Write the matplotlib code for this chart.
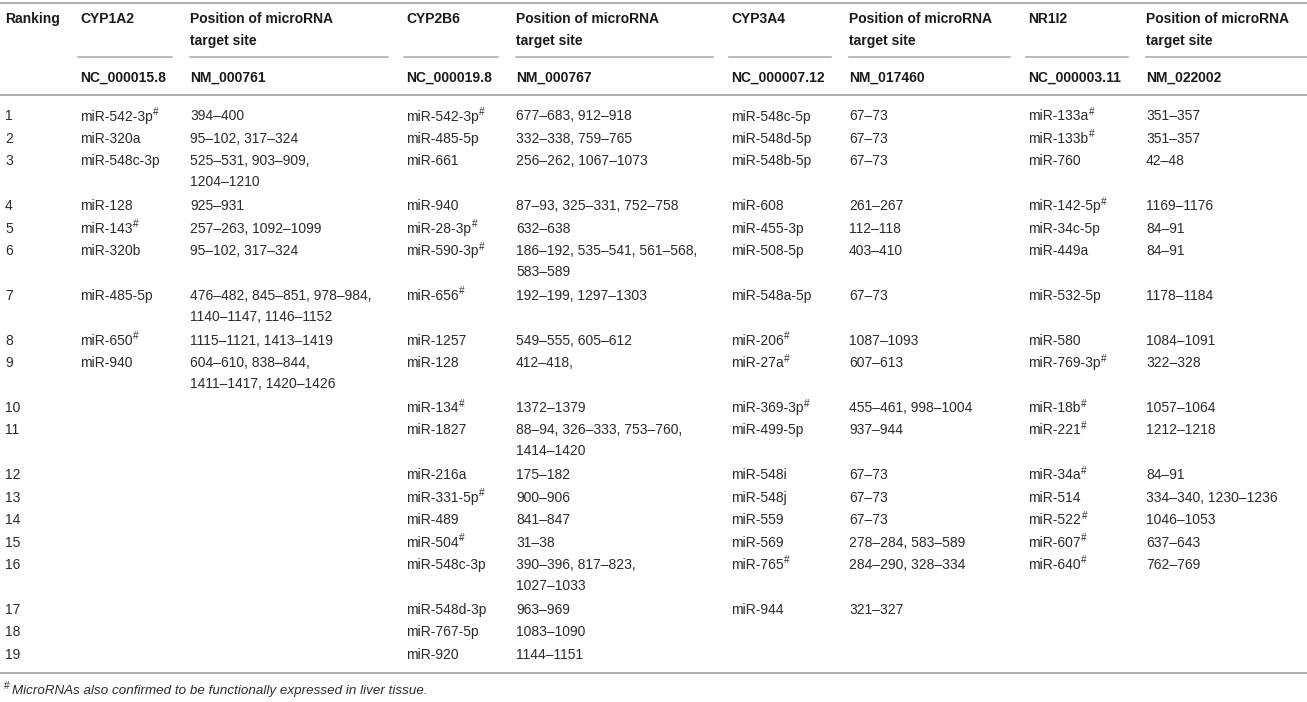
import matplotlib
matplotlib.use("Agg")
import matplotlib.pyplot as plt

plt.rcParams['font.family'] = ['Liberation Sans', 'DejaVu Sans']

# ---------------- data ----------------
genes = ["CYP1A2", "CYP2B6", "CYP3A4", "NR1I2"]
nc_ids = ["NC_000015.8", "NC_000019.8", "NC_000007.12", "NC_000003.11"]
nm_ids = ["NM_000761", "NM_000767", "NM_017460", "NM_022002"]
pos_header = "Position of microRNA\ntarget site"
rankings = [str(i) for i in range(1, 20)]

cyp1a2_mirna = ["miR-542-3p#", "miR-320a", "miR-548c-3p", "miR-128", "miR-143#",
                "miR-320b", "miR-485-5p", "miR-650#", "miR-940"]
cyp1a2_pos = ["394–400", "95–102, 317–324", "525–531, 903–909,\n1204–1210", "925–931",
              "257–263, 1092–1099", "95–102, 317–324",
              "476–482, 845–851, 978–984,\n1140–1147, 1146–1152",
              "1115–1121, 1413–1419", "604–610, 838–844,\n1411–1417, 1420–1426"]

cyp2b6_mirna = ["miR-542-3p#", "miR-485-5p", "miR-661", "miR-940", "miR-28-3p#",
                "miR-590-3p#", "miR-656#", "miR-1257", "miR-128", "miR-134#", "miR-1827",
                "miR-216a", "miR-331-5p#", "miR-489", "miR-504#", "miR-548c-3p",
                "miR-548d-3p", "miR-767-5p", "miR-920"]
cyp2b6_pos = ["677–683, 912–918", "332–338, 759–765", "256–262, 1067–1073",
              "87–93, 325–331, 752–758", "632–638", "186–192, 535–541, 561–568,\n583–589",
              "192–199, 1297–1303", "549–555, 605–612", "412–418,", "1372–1379",
              "88–94, 326–333, 753–760,\n1414–1420", "175–182", "900–906", "841–847",
              "31–38", "390–396, 817–823,\n1027–1033", "963–969", "1083–1090", "1144–1151"]

cyp3a4_mirna = ["miR-548c-5p", "miR-548d-5p", "miR-548b-5p", "miR-608", "miR-455-3p",
                "miR-508-5p", "miR-548a-5p", "miR-206#", "miR-27a#", "miR-369-3p#",
                "miR-499-5p", "miR-548i", "miR-548j", "miR-559", "miR-569", "miR-765#",
                "miR-944"]
cyp3a4_pos = ["67–73", "67–73", "67–73", "261–267", "112–118", "403–410", "67–73",
              "1087–1093", "607–613", "455–461, 998–1004", "937–944", "67–73", "67–73",
              "67–73", "278–284, 583–589", "284–290, 328–334", "321–327"]

nr1i2_mirna = ["miR-133a#", "miR-133b#", "miR-760", "miR-142-5p#", "miR-34c-5p",
               "miR-449a", "miR-532-5p", "miR-580", "miR-769-3p#", "miR-18b#", "miR-221#",
               "miR-34a#", "miR-514", "miR-522#", "miR-607#", "miR-640#"]
nr1i2_pos = ["351–357", "351–357", "42–48", "1169–1176", "84–91", "84–91", "1178–1184",
             "1084–1091", "322–328", "1057–1064", "1212–1218", "84–91",
             "334–340, 1230–1236", "1046–1053", "637–643", "762–769"]

footnote = "MicroRNAs also confirmed to be functionally expressed in liver tissue."

# ---------------- layout ----------------
W, H = 1307, 702
fig = plt.figure(figsize=(W / 100, H / 100), dpi=100)
ax = fig.add_axes([0, 0, 1, 1])
ax.set_xlim(0, W)
ax.set_ylim(H, 0)
ax.axis('off')
renderer = fig.canvas.get_renderer()

FS = 10.0
BODY = '#2b2b2b'
HEAD = '#1a1a1a'
LINE = '#a8a8a8'

x_rank = 5
x_gene = [80, 406, 731, 1028]
x_pos = [190, 516, 849, 1146]

mirna_cols = [cyp1a2_mirna, cyp2b6_mirna, cyp3a4_mirna, nr1i2_mirna]
pos_cols = [cyp1a2_pos, cyp2b6_pos, cyp3a4_pos, nr1i2_pos]


def sup(x, y):
    ax.text(x, y, '#', ha='left', va='baseline', fontsize=7.2, color=BODY)


def put(x, y, s, bold=False, color=BODY, size=FS, inner=21.0, style='normal'):
    for j, line in enumerate(s.split('\n')):
        mark = line.endswith('#')
        txt = line[:-1] if mark else line
        t = ax.text(x, y + j * inner, txt, ha='left', va='baseline',
                    fontsize=size, fontweight='bold' if bold else 'normal',
                    color=color, fontstyle=style)
        if mark:
            bb = t.get_window_extent(renderer=renderer)
            sup(x + bb.width + 0.6, y + j * inner - 5.5)


# header
hb = 23
put(x_rank, hb, "Ranking", bold=True, color=HEAD)
for g, xg, xp in zip(genes, x_gene, x_pos):
    put(xg, hb, g, bold=True, color=HEAD)
    put(xp, hb, pos_header, bold=True, color=HEAD, inner=22)
nb = 82
for nc, nm, xg, xp in zip(nc_ids, nm_ids, x_gene, x_pos):
    put(xg, nb, nc, bold=True, color=HEAD)
    put(xp, nb, nm, bold=True, color=HEAD)

# lines
ax.plot([0, W], [3, 3], color=LINE, lw=1.3)
ax.plot([0, W], [95, 95], color=LINE, lw=1.3)
ax.plot([0, W], [673, 673], color=LINE, lw=1.3)
next_x = x_gene[1:] + [W + 18]
for xg, xp, xn in zip(x_gene, x_pos, next_x):
    ax.plot([xg - 2, xp - 18], [57, 57], color=LINE, lw=1.1)
    ax.plot([xp, min(xn - 18, W)], [57, 57], color=LINE, lw=1.1)

# body rows
y = 120.5
for i, r in enumerate(rankings):
    nlines = 1
    put(x_rank, y, r)
    for mc, pc, xg, xp in zip(mirna_cols, pos_cols, x_gene, x_pos):
        if i < len(mc):
            put(xg, y, mc[i])
            put(xp, y, pc[i])
            nlines = max(nlines, pc[i].count('\n') + 1)
    y += 22.4 + 22.5 * (nlines - 1)

# footnote
sup(4, 689)
ax.text(12, 694, footnote, ha='left', va='baseline', fontsize=9.6,
        fontstyle='italic', color=BODY)

fig.savefig('out.png', dpi=100)
